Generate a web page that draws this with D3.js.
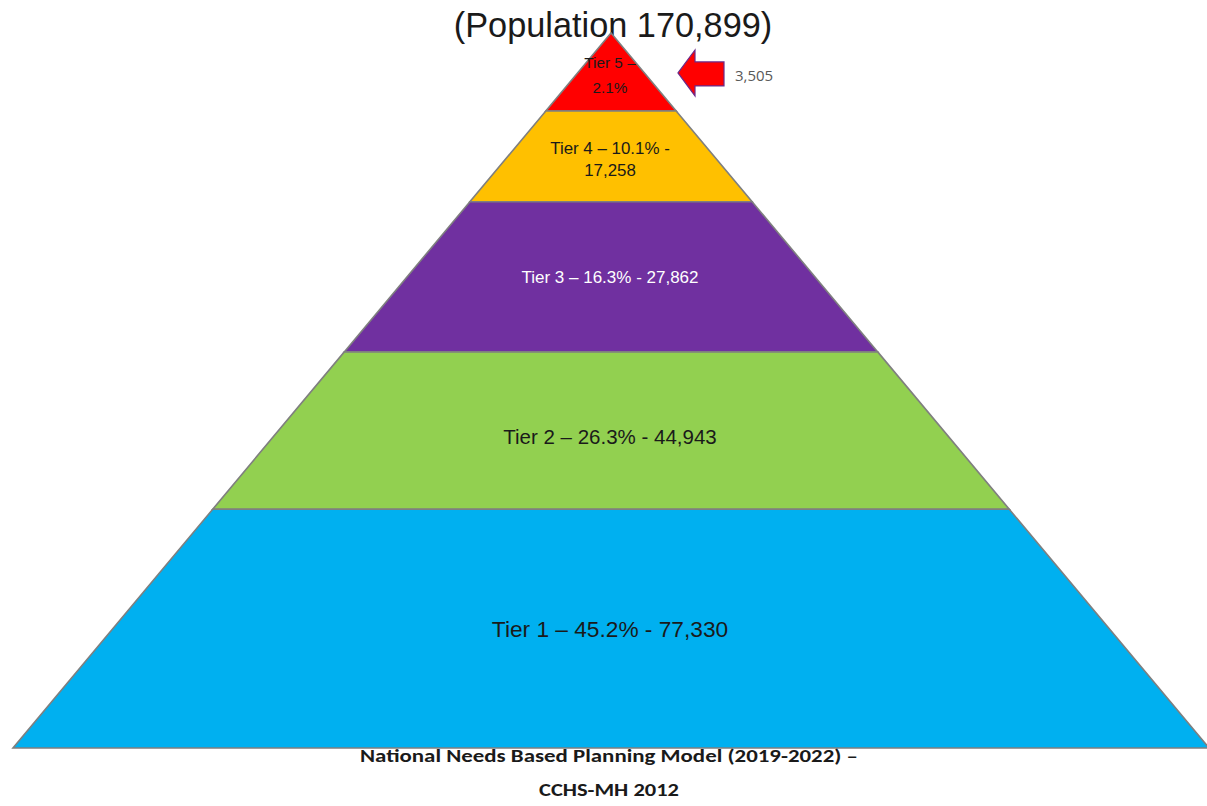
<!DOCTYPE html>
<html>
<head>
<meta charset="utf-8">
<script src="https://cdn.jsdelivr.net/npm/d3@7"></script>
<style>
  body { margin: 0; background: #fff; }
  svg { display: block; }
</style>
</head>
<body>
<div id="pyramid"></div>
<script>
// data (top tier first)
var tierNames = ["Tier 5", "Tier 4", "Tier 3", "Tier 2", "Tier 1"];
var tierPercents = [2.1, 10.1, 16.3, 26.3, 45.2];
var tierCounts = [3505, 17258, 27862, 44943, 77330];
var population = 170899;
var footnoteLines = ["National Needs Based Planning Model (2019-2022) \u2013", "CCHS-MH 2012"];

// layout: where each band ends, as a share of the pyramid height
var bandEdges = [0, 0.109, 0.236, 0.446, 0.666, 1];
var tierColors = ["#ff0000", "#ffc000", "#7030a0", "#92d050", "#00b0f0"];
var textColors = ["#1a1a1a", "#1a1a1a", "#ffffff", "#1a1a1a", "#1a1a1a"];
var fontSizes = [15.3, 16.9, 17, 20.5, 22.7];
var labelDy = [3, 2.5, 0, 6.5, 0];

var width = 1207, height = 806;
var apex = {x: 611, y: 33}, baseY = 748, halfBase = 598;

var svg = d3.select("#pyramid")
	.append("svg")
	.attr("width", width)
	.attr("height", height);

var fmt = d3.format(",");

// vertical position along the pyramid, and half width at that level
var y = d3.scaleLinear().domain([0, 1]).range([apex.y, baseY]);
var halfW = d3.scaleLinear().domain([0, 1]).range([0, halfBase]);

var tiers = tierNames.map(function(name, i) {
	return {
		name: name, pct: tierPercents[i], count: tierCounts[i],
		top: bandEdges[i], bottom: bandEdges[i + 1],
		color: tierColors[i], textColor: textColors[i], size: fontSizes[i], dy: labelDy[i]
	};
});

// title
svg.append("text")
	.attr("x", 613)
	.attr("y", 37)
	.attr("text-anchor", "middle")
	.attr("font-family", "Liberation Sans, Arial, sans-serif")
	.style("font-size", "34.3px")
	.attr("fill", "#1a1a1a")
	.text("(Population " + fmt(population) + ")");

// bands
svg.append("g")
	.selectAll("path")
	.data(tiers)
	.enter()
	.append("path")
	.attr("d", function(d) {
		var t = y(d.top), b = y(d.bottom);
		var wt = halfW(d.top), wb = halfW(d.bottom);
		return "M" + (apex.x - wt) + "," + t + "L" + (apex.x + wt) + "," + t +
			"L" + (apex.x + wb) + "," + b + "L" + (apex.x - wb) + "," + b + "Z";
	})
	.attr("fill", function(d) { return d.color; })
	.attr("stroke", "#7f7f7f")
	.attr("stroke-width", 1.6)
	.attr("stroke-linejoin", "miter");

// label text for each band
function tierLines(d, i) {
	var pct = d.pct.toFixed(1) + "%";
	if (i === 0) return [d.name + " \u2013", pct];
	if (i === 1) return [d.name + " \u2013 " + pct + " -", fmt(d.count)];
	return [d.name + " \u2013 " + pct + " - " + fmt(d.count)];
}

var labels = svg.append("g")
	.selectAll("text")
	.data(tiers)
	.enter()
	.append("text")
	.attr("text-anchor", "middle")
	.attr("font-family", "Liberation Sans, Arial, sans-serif")
	.style("font-size", function(d) { return d.size + "px"; })
	.attr("fill", function(d) { return d.textColor; });

labels.each(function(d, i) {
	var lines = tierLines(d, i);
	var mid = (y(d.top) + y(d.bottom)) / 2 + d.dy;
	var lh = i === 0 ? 25 : 22;
	var first = mid + d.size * 0.36 - (lines.length - 1) * lh / 2;
	d3.select(this).selectAll("tspan")
		.data(lines)
		.enter()
		.append("tspan")
		.attr("x", 610)
		.attr("y", function(l, k) { return first + k * lh; })
		.text(function(l) { return l; });
});

// callout arrow for the top tier
var arrow = svg.append("g")
	.attr("transform", "translate(678," + ((y(bandEdges[0]) + y(bandEdges[1])) / 2 + 1) + ")");
arrow.append("path")
	.attr("d", "M0,0L17,-23L17,-11L46,-11L46,13L17,13L17,23Z")
	.attr("fill", "#ff0000")
	.attr("stroke", "#6b2a8a")
	.attr("stroke-width", 1.2);
arrow.append("text")
	.attr("x", 57)
	.attr("y", 8)
	.attr("font-family", "Open Sans, Liberation Sans, sans-serif")
	.style("font-size", "15px")
	.attr("fill", "#595959")
	.text(fmt(tierCounts[0]));

// source note under the pyramid
var noteWidths = [498, 140];
svg.append("g")
	.selectAll("text")
	.data(footnoteLines)
	.enter()
	.append("text")
	.attr("x", 609)
	.attr("y", function(d, i) { return 762 + i * 34; })
	.attr("text-anchor", "middle")
	.attr("font-family", "Carlito, Open Sans, Liberation Sans, sans-serif")
	.attr("font-weight", "bold")
	.style("font-size", "18.5px")
	.attr("fill", "#1a1a1a")
	.attr("textLength", function(d, i) { return noteWidths[i]; })
	.attr("lengthAdjust", "spacingAndGlyphs")
	.text(function(d) { return d; });
</script>
</body>
</html>
